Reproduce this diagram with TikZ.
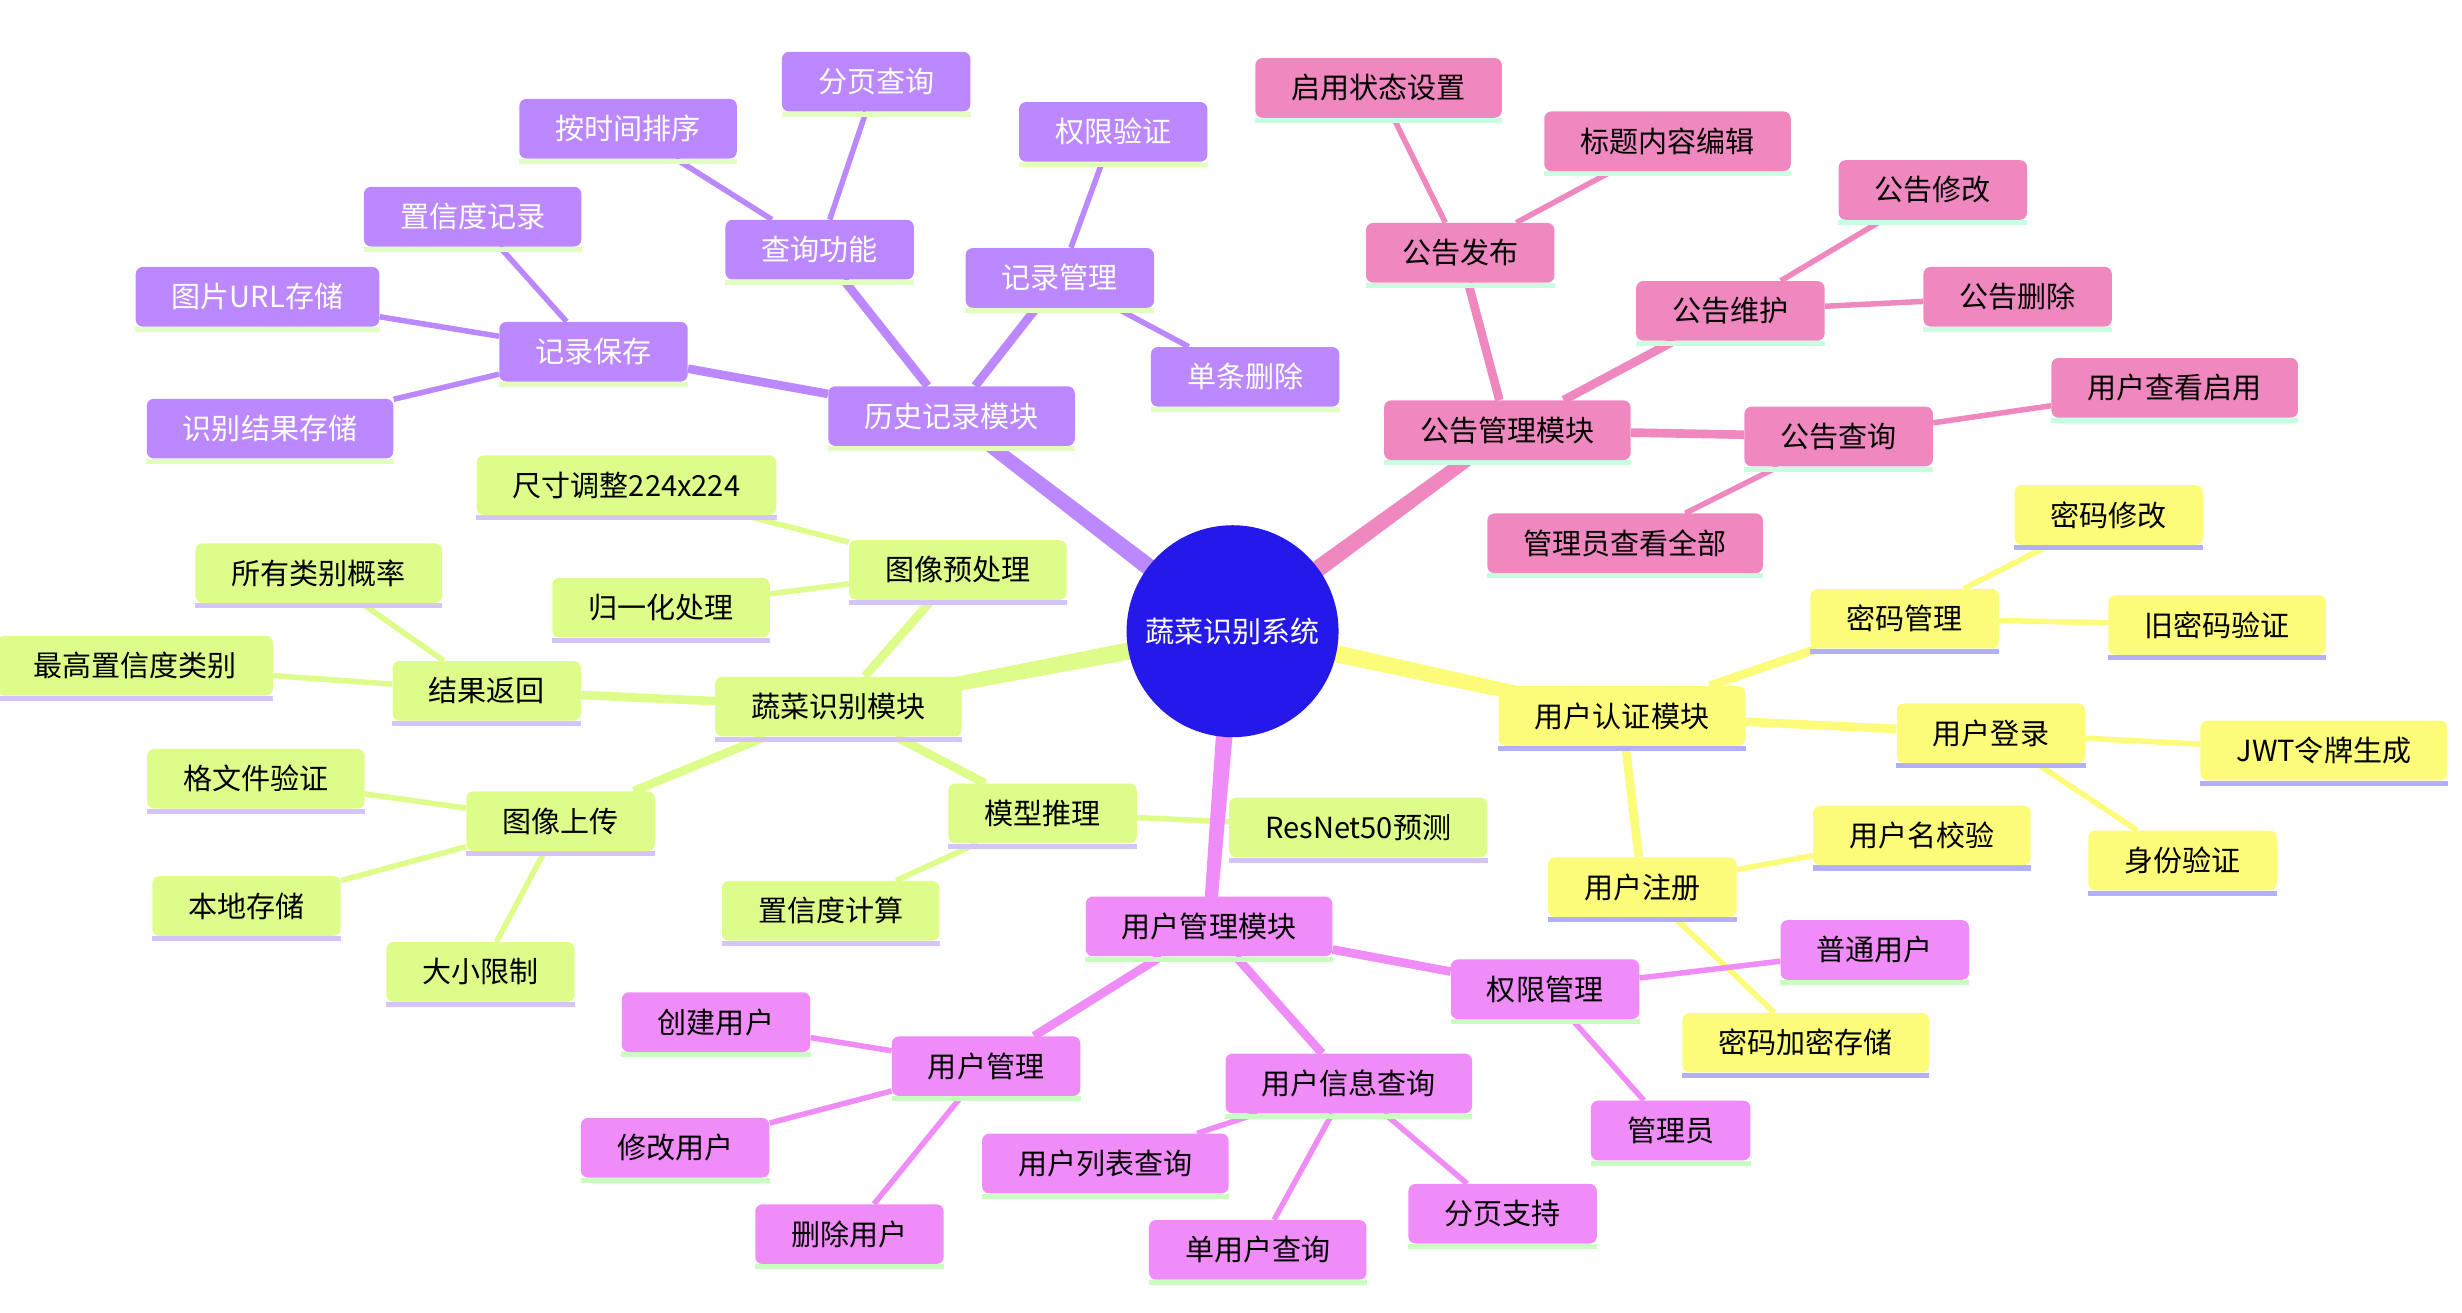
\documentclass[tikz,border=0pt]{standalone}
\usepackage{fontspec}
\setmainfont{Noto Sans CJK SC}
\usetikzlibrary{backgrounds,calc}
\definecolor{cP}{HTML}{BB88FF}
\definecolor{sP}{HTML}{E0FFC0}
\definecolor{cK}{HTML}{F088C0}
\definecolor{sK}{HTML}{C8FFE0}
\definecolor{cY}{HTML}{FCFC7A}
\definecolor{sY}{HTML}{B4B0F8}
\definecolor{cG}{HTML}{DDFC8A}
\definecolor{sG}{HTML}{D4C4F8}
\definecolor{cM}{HTML}{F08CF8}
\definecolor{sM}{HTML}{C8FFC0}
\definecolor{cC}{HTML}{2419E8}
\tikzset{
  mmfont/.style={font=\fontsize{18.5}{22}\selectfont},
  mm/.style 2 args={mmfont, fill=#1, rounded corners=4.5pt, minimum height=38pt,
    inner xsep=23pt, inner ysep=0pt, text=black,
    append after command={\pgfextra{\fill[#2, sharp corners]
      ([yshift=-3.2pt]\tikzlastnode.south west) rectangle (\tikzlastnode.south east);}}},
  pbox/.style={mm={cP}{sP}, text=white},
  kbox/.style={mm={cK}{sK}},
  ybox/.style={mm={cY}{sY}},
  gbox/.style={mm={cG}{sG}},
  mbox/.style={mm={cM}{sM}},
  ltwo/.style={line width=5.5pt},
  lthree/.style={line width=3.5pt},
}
\newcommand\mmtaper[3]{%
  \fill[#1] let \p1=(#2), \p2=(#3), \n1={atan2(\y2-\y1,\x2-\x1)} in
    ($(#2)+(\n1+90:6pt)$) -- ($(#3)+(\n1+90:4pt)$) -- ($(#3)+(\n1-90:4pt)$) -- ($(#2)+(\n1-90:6pt)$) -- cycle;}
\begin{document}
\begin{tikzpicture}[x=1pt,y=-1pt]
\useasboundingbox (0,0) rectangle (1568,836);
\node[circle, fill=cC, minimum size=135pt, inner sep=0pt, text=white, mmfont] (C) at (785,402) {蔬菜识别系统};
% purple
\node[pbox] (hist) at (606,265) {历史记录模块};
\node[pbox] (pq) at (522,159) {查询功能};
\node[pbox] (pr) at (675,177) {记录管理};
\node[pbox] (ps) at (378,224) {记录保存};
\node[pbox] (pq1) at (558,52) {分页查询};
\node[pbox] (pq2) at (400,82) {按时间排序};
\node[pbox] (pr1) at (709,84) {权限验证};
\node[pbox] (pr2) at (793,240) {单条删除};
\node[pbox] (ps1) at (301,138) {置信度记录};
\node[pbox] (ps2) at (164,189) {图片URL存储};
\node[pbox] (ps3) at (172,273) {识别结果存储};
% pink
\node[kbox] (k) at (960,274) {公告管理模块};
\node[kbox] (k1) at (930,161) {公告发布};
\node[kbox] (k2) at (1102,198) {公告维护};
\node[kbox] (k3) at (1171,278) {公告查询};
\node[kbox] (k11) at (878,56) {启用状态设置};
\node[kbox] (k12) at (1062,90) {标题内容编辑};
\node[kbox] (k21) at (1231,121) {公告修改};
\node[kbox] (k22) at (1285,189) {公告删除};
\node[kbox] (k31) at (1385,247) {用户查看启用};
\node[kbox] (k32) at (1035,346) {管理员查看全部};
% yellow
\node[ybox] (y) at (1033,456) {用户认证模块};
\node[ybox] (y1) at (1213,394) {密码管理};
\node[ybox] (y2) at (1268,467) {用户登录};
\node[ybox] (y3) at (1046,565) {用户注册};
\node[ybox] (y11) at (1343,328) {密码修改};
\node[ybox] (y12) at (1412,398) {旧密码验证};
\node[ybox] (y21) at (1480,478) {JWT令牌生成};
\node[ybox] (y22) at (1390,548) {身份验证};
\node[ybox] (y31) at (1224,532) {用户名校验};
\node[ybox] (y32) at (1150,664) {密码加密存储};
% magenta
\node[mbox] (m) at (770,590) {用户管理模块};
\node[mbox] (m1) at (984,630) {权限管理};
\node[mbox] (m2) at (628,679) {用户管理};
\node[mbox] (m3) at (859,690) {用户信息查询};
\node[mbox] (m11) at (1194,605) {普通用户};
\node[mbox] (m12) at (1064,720) {管理员};
\node[mbox] (m21) at (456,651) {创建用户};
\node[mbox] (m22) at (430,731) {修改用户};
\node[mbox] (m23) at (541,786) {删除用户};
\node[mbox] (m31) at (704,741) {用户列表查询};
\node[mbox] (m32) at (801,796) {单用户查询};
\node[mbox] (m33) at (957,773) {分页支持};
% green
\node[gbox] (g) at (534,450) {蔬菜识别模块};
\node[gbox] (g1) at (610,363) {图像预处理};
\node[gbox] (g2) at (310,440) {结果返回};
\node[gbox] (g3) at (357,523) {图像上传};
\node[gbox] (g4) at (664,518) {模型推理};
\node[gbox] (g11) at (399,309) {尺寸调整224x224};
\node[gbox] (g12) at (421,387) {归一化处理};
\node[gbox] (g21) at (203,365) {所有类别概率};
\node[gbox] (g22) at (86,424) {最高置信度类别};
\node[gbox] (g31) at (163,496) {格文件验证};
\node[gbox] (g32) at (157,577) {本地存储};
\node[gbox] (g33) at (306,619) {大小限制};
\node[gbox] (g41) at (865,527) {ResNet50预测};
\node[gbox] (g42) at (529,580) {置信度计算};
\begin{pgfonlayer}{background}
% purple
\mmtaper{cP}{C}{hist}
\draw[cP,ltwo] (hist) -- (pq);
\draw[cP,ltwo] (hist) -- (pr);
\draw[cP,ltwo] (hist) -- (ps);
\draw[cP,lthree] (pq) -- (pq1);
\draw[cP,lthree] (pq) -- (pq2);
\draw[cP,lthree] (pr) -- (pr1);
\draw[cP,lthree] (pr) -- (pr2);
\draw[cP,lthree] (ps) -- (ps1);
\draw[cP,lthree] (ps) -- (ps2);
\draw[cP,lthree] (ps) -- (ps3);
% pink
\mmtaper{cK}{C}{k}
\draw[cK,ltwo] (k) -- (k1);
\draw[cK,ltwo] (k) -- (k2);
\draw[cK,ltwo] (k) -- (k3);
\draw[cK,lthree] (k1) -- (k11);
\draw[cK,lthree] (k1) -- (k12);
\draw[cK,lthree] (k2) -- (k21);
\draw[cK,lthree] (k2) -- (k22);
\draw[cK,lthree] (k3) -- (k31);
\draw[cK,lthree] (k3) -- (k32);
% yellow
\mmtaper{cY}{C}{y}
\draw[cY,ltwo] (y) -- (y1);
\draw[cY,ltwo] (y) -- (y2);
\draw[cY,ltwo] (y) -- (y3);
\draw[cY,lthree] (y1) -- (y11);
\draw[cY,lthree] (y1) -- (y12);
\draw[cY,lthree] (y2) -- (y21);
\draw[cY,lthree] (y2) -- (y22);
\draw[cY,lthree] (y3) -- (y31);
\draw[cY,lthree] (y3) -- (y32);
% green
\mmtaper{cG}{C}{g}
\draw[cG,ltwo] (g) -- (g1);
\draw[cG,ltwo] (g) -- (g2);
\draw[cG,ltwo] (g) -- (g3);
\draw[cG,ltwo] (g) -- (g4);
\draw[cG,lthree] (g1) -- (g11);
\draw[cG,lthree] (g1) -- (g12);
\draw[cG,lthree] (g2) -- (g21);
\draw[cG,lthree] (g2) -- (g22);
\draw[cG,lthree] (g3) -- (g31);
\draw[cG,lthree] (g3) -- (g32);
\draw[cG,lthree] (g3) -- (g33);
\draw[cG,lthree] (g4) -- (g41);
\draw[cG,lthree] (g4) -- (g42);
% magenta
\mmtaper{cM}{C}{m}
\draw[cM,ltwo] (m) -- (m1);
\draw[cM,ltwo] (m) -- (m2);
\draw[cM,ltwo] (m) -- (m3);
\draw[cM,lthree] (m1) -- (m11);
\draw[cM,lthree] (m1) -- (m12);
\draw[cM,lthree] (m2) -- (m21);
\draw[cM,lthree] (m2) -- (m22);
\draw[cM,lthree] (m2) -- (m23);
\draw[cM,lthree] (m3) -- (m31);
\draw[cM,lthree] (m3) -- (m32);
\draw[cM,lthree] (m3) -- (m33);
\end{pgfonlayer}
\end{tikzpicture}
\end{document}
